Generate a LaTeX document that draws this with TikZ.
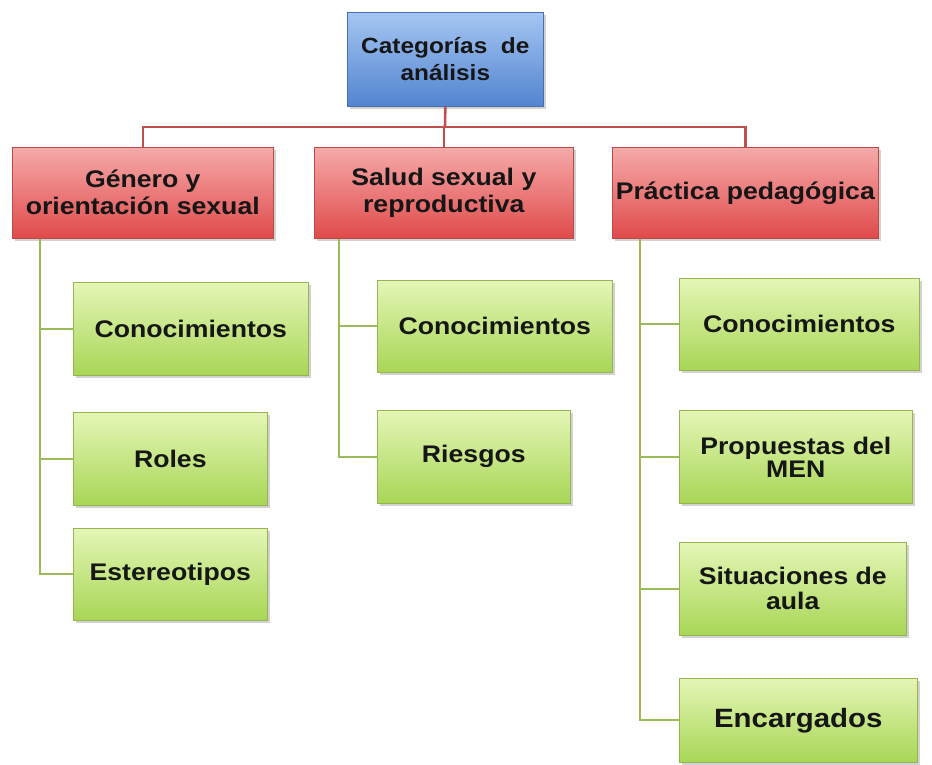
\documentclass[tikz,border=0pt]{standalone}
\usepackage{fontspec}
\newfontfamily\lab{Liberation Sans}[FakeStretch=1.11]
\usetikzlibrary{shadows}
\definecolor{bluetop}{RGB}{165,198,242}
\definecolor{bluebot}{RGB}{82,132,208}
\definecolor{blueedge}{RGB}{70,110,175}
\definecolor{redtop}{RGB}{246,170,170}
\definecolor{redbot}{RGB}{224,74,74}
\definecolor{rededge}{RGB}{185,74,72}
\definecolor{greentop}{RGB}{228,246,182}
\definecolor{greenbot}{RGB}{168,214,86}
\definecolor{greenedge}{RGB}{150,180,80}
\definecolor{redline}{RGB}{192,80,77}
\definecolor{greenline}{RGB}{155,187,89}
\definecolor{txt}{RGB}{22,22,22}
\tikzset{
  box/.style={rectangle, anchor=north west, inner sep=0pt, align=center,
    text=txt, line width=0.6pt,
    drop shadow={shadow xshift=2.5pt, shadow yshift=-2.5pt, opacity=0.35}},
  topbox/.style={box, draw=blueedge, top color=bluetop, bottom color=bluebot,
    font=\lab\bfseries\fontsize{22}{27}\selectfont},
  redbox/.style={box, draw=rededge, top color=redtop, bottom color=redbot,
    font=\lab\bfseries\fontsize{24}{27}\selectfont},
  greenbox/.style={box, draw=greenedge, top color=greentop, bottom color=greenbot,
    font=\lab\bfseries\fontsize{24}{23}\selectfont},
  rline/.style={draw=redline, line width=2.6pt},
  gline/.style={draw=greenline, line width=2pt}
}
\begin{document}
\begin{tikzpicture}[x=1pt,y=-1pt]
\useasboundingbox[fill=white] (0,0) rectangle (932,764);
% connectors (drawn first)
\coordinate (bus) at (445,127);
% boxes
\node[topbox, minimum width=196pt, minimum height=94pt] (cat) at (347,12) {Categorías\ \ de\\análisis};
\node[redbox, minimum width=261pt, minimum height=91pt] (r1) at (12,147) {Género y\\orientación sexual};
\node[redbox, minimum width=259pt, minimum height=91pt] (r2) at (314,147) {Salud sexual y\\reproductiva};
\node[redbox, minimum width=266pt, minimum height=91pt] (r3) at (612,147) {Práctica pedagógica};

\node[greenbox, minimum width=235pt, minimum height=93pt] (g11) at (73,282) {Conocimientos};
\node[greenbox, minimum width=194pt, minimum height=93pt] (g12) at (73,412) {Roles};
\node[greenbox, minimum width=194pt, minimum height=92pt] (g13) at (73,528) {Estereotipos};

\node[greenbox, minimum width=235pt, minimum height=92pt] (g21) at (377,280) {Conocimientos};
\node[greenbox, minimum width=193pt, minimum height=93pt] (g22) at (377,410) {Riesgos};

\node[greenbox, minimum width=240pt, minimum height=92pt] (g31) at (679,278) {Conocimientos};
\node[greenbox, minimum width=233pt, minimum height=93pt] (g32) at (679,410) {Propuestas del\\MEN};
\node[greenbox, minimum width=227pt, minimum height=93pt, font=\lab\bfseries\fontsize{24}{25}\selectfont] (g33) at (679,542) {Situaciones de\\aula};
\node[greenbox, minimum width=238pt, minimum height=84pt, font=\lab\bfseries\fontsize{26.5}{28}\selectfont] (g34) at (679,678) {Encargados};

% red connectors
\draw[rline] (cat.south) -- (bus);
\draw[rline] (bus) -| (r1.north);
\draw[rline] (bus) -| (r3.north);
\draw[rline] (bus) -| (r2.north);

% green connectors
\draw[gline] (r1.south west) ++(28,0) |- (g11.west);
\draw[gline] (r1.south west) ++(28,0) |- (g12.west);
\draw[gline] (r1.south west) ++(28,0) |- (g13.west);
\draw[gline] (r2.south west) ++(25,0) |- (g21.west);
\draw[gline] (r2.south west) ++(25,0) |- (g22.west);
\draw[gline] (r3.south west) ++(28,0) |- (g31.west);
\draw[gline] (r3.south west) ++(28,0) |- (g32.west);
\draw[gline] (r3.south west) ++(28,0) |- (g33.west);
\draw[gline] (r3.south west) ++(28,0) |- (g34.west);
\end{tikzpicture}
\end{document}
